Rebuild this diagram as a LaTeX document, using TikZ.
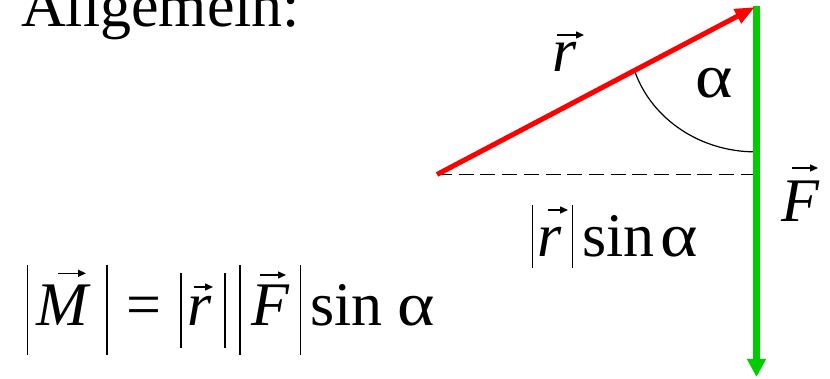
\documentclass[tikz,border=0pt]{standalone}
\usepackage{graphicx}
\usepackage[no-math]{fontspec}
\setmainfont{Liberation Serif}
\usetikzlibrary{arrows.meta}
\definecolor{vred}{RGB}{255,0,0}
\definecolor{vgreen}{RGB}{0,204,0}
\newcommand\vbar[2]{\rule[-#2pt]{1.3pt}{\dimexpr#1pt+#2pt\relax}}
\newcommand\alp{\scalebox{1.15}[1]{α}}
\begin{document}
\begin{tikzpicture}[x=1pt,y=1pt,
  txt/.style={inner sep=0pt, anchor=base west, font=\fontsize{62}{70}\selectfont},
  rvec/.style={draw=vred, line width=5pt, -{Triangle[length=20pt,width=15pt]}},
  fvec/.style={draw=vgreen, line width=6.5pt, -{Triangle[length=18pt,width=18pt]}},
  helper/.style={draw=black, line width=1.5pt, dash pattern=on 15pt off 6.7pt},
  anglearc/.style={draw=black, line width=1.2pt},
  accent/.style={draw=black, line width=1.4pt, -{Triangle[length=8pt,width=7pt]}}]
\useasboundingbox (0,0) rectangle (830,379);
\coordinate (O) at (437,204.5);
\coordinate (T) at (755,372);
\coordinate (G0) at (756.5,373);
\coordinate (G1) at (756.5,2);
\coordinate (D) at (756.5,204.5);
\coordinate (A0) at (635,307);
\draw[helper] (O) -- (D);
\draw[anglearc] (A0) arc[start angle=198.5,end angle=270,x radius=127,y radius=117];
\draw[fvec] (G0) -- (G1);
\draw[rvec] (O) -- (T);
\node[txt] (title) at (21,352) {Allgemein:};
\node[txt] (rlab) at (552.5,307) {\textit{r}};
\node[txt] (alab) at (695,281) {\alp};
\node[txt] (Flab) at (781,157) {\textit{F}};
\node[txt] (rsin) at (531.35,122) {\vbar{52}{11}\kern4.55pt\textit{r}\kern10.05pt\vbar{52}{11}\kern9.15pt sin\kern5.8pt\alp};
\node[txt] (form) at (26.4,53) {\vbar{61}{29}\kern8.8pt\textit{M}\kern15.2pt\vbar{61}{29}\kern18.4pt=\kern19.2pt\vbar{53}{22}\kern5.5pt\textit{r}\kern13pt\vbar{53}{22}\kern13.7pt\vbar{61}{29}\kern11.1pt\textit{F}\kern9.65pt\vbar{61}{29}\kern9.1pt sin\kern14.8pt\alp};
% vector arrows over the letters
\coordinate (vM0) at (58,105.7);   \coordinate (vM1) at (86,105.7);
\coordinate (vr0) at (194,92);     \coordinate (vr1) at (213,92);
\coordinate (vF0) at (260,104);    \coordinate (vF1) at (286,104);
\coordinate (vR0) at (557,344);    \coordinate (vR1) at (584,344);
\coordinate (vG0) at (792,211);    \coordinate (vG1) at (818,211);
\coordinate (vS0) at (548,169);    \coordinate (vS1) at (568,169);
\draw[accent] (vM0) -- (vM1);
\draw[accent] (vr0) -- (vr1);
\draw[accent] (vF0) -- (vF1);
\draw[accent] (vR0) -- (vR1);
\draw[accent] (vG0) -- (vG1);
\draw[accent] (vS0) -- (vS1);
\end{tikzpicture}
\end{document}
